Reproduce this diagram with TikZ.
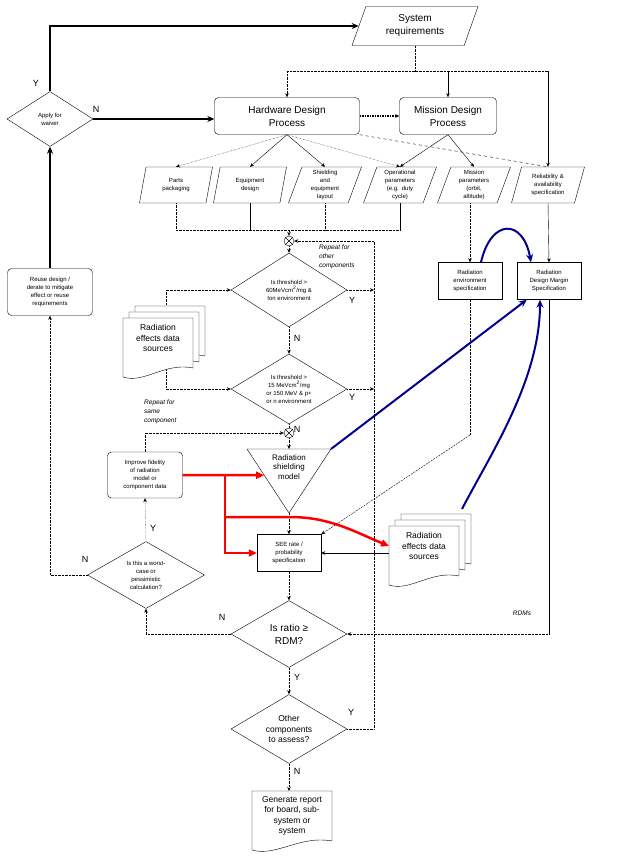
\documentclass[tikz,border=0pt]{standalone}
\usepackage{fontspec}
\setmainfont{Liberation Sans}
\usetikzlibrary{positioning}
\usetikzlibrary{calc}
\usetikzlibrary{shapes.geometric}
\usetikzlibrary{arrows.meta}
\definecolor{rdmblue}{RGB}{0,0,140}
\tikzset{
    % Small arrow tips for the thin flow lines
    >={Stealth[length=4pt,width=3.5pt]},
%
    % Text sizes used across the chart
    tiny text/.style={font=\fontsize{6}{8}\selectfont},
    small text/.style={font=\fontsize{8}{9.5}\selectfont},
    mid text/.style={font=\fontsize{8.5}{10.5}\selectfont},
    big text/.style={font=\fontsize{10}{13}\selectfont},
%
    % Square and rounded process boxes
    plainbox/.style={draw, align=center, inner sep=1pt, tiny text,
        minimum width=64pt, minimum height=37pt},
    proc/.style={plainbox, rounded corners=4pt},
%
    % Slanted input boxes
    slanted/.style={draw, trapezium, trapezium left angle=67,
        trapezium right angle=113, trapezium stretches body,
        minimum width=73pt, minimum height=36pt, inner xsep=0pt,
        inner ysep=1pt, text width=40pt, align=center, tiny text},
%
    % Yes/no questions
    decision/.style={draw, diamond, aspect=1.6, inner sep=0pt, align=center,
        minimum width=116pt, minimum height=70pt, tiny text},
%
    % Summing junction
    joint/.style={draw, circle, fill=white, minimum size=10pt, inner sep=0pt,
        path picture={\draw (path picture bounding box.north west)
            -- (path picture bounding box.south east)
            (path picture bounding box.north east)
            -- (path picture bounding box.south west);}},
%
    % Connectors
    flow/.style={densely dotted, ->},
    plain flow/.style={->},
    heavy flow/.style={line width=2pt, -{Stealth[length=7pt,width=6pt]}},
    red flow/.style={red, line width=2.5pt, -{Triangle[length=8pt,width=7pt]}},
    blue flow/.style={rdmblue, line width=2pt, -{Stealth[length=8pt,width=7pt]}},
%
    % Branch letters and side notes
    yn/.style={font=\fontsize{9}{10}\selectfont, inner sep=0pt},
    note/.style={font=\fontsize{6.5}{9}\selectfont\itshape, align=left,
        inner sep=0pt}}
\pgfdeclarelayer{background}
\pgfsetlayers{background,main}

\begin{document}
\begin{tikzpicture}[x=1pt, y=-1pt]
\useasboundingbox (0,0) rectangle (620,864);

% Draws a document page with top left corner at (#1,#2) and width #3
\newcommand{\docpage}[3]{
\draw [fill=white, shift={(#1,#2)}, xscale=#3/70]
    (0,0) -- (70,0) -- (70,50) .. controls (42,44) and (21,66) .. (0,59)
    -- cycle;
}

% Draws a stack of three data source pages named #1 at (#2,#3)
\newcommand{\datastack}[3]{
\docpage{#2+12}{#3-12}{70}
\docpage{#2+6}{#3-6}{70}
\docpage{#2}{#3}{70}
\node [mid text, align=center] (#1) at (#2+35,#3+20)
    {Radiation\\effects data\\sources};
\coordinate (#1 west) at (#2,#3+20);
\coordinate (#1 hook) at (#2+43,#3+30);
\coordinate (#1 corner) at (#2+73,#3-17);
}

% Requirements and design processes
\node [slanted, big text, minimum width=126pt, minimum height=39pt,
    text width=75pt, trapezium left angle=60, trapezium right angle=120]
    (sysreq) at (415,26) {System\\requirements};
\node [proc, big text, minimum width=145pt, minimum height=37pt]
    (hw) at (287,116) {Hardware Design\\Process};
\node [proc, big text, minimum width=97pt, minimum height=37pt]
    (md) at (448,116) {Mission Design\\Process};
\node [decision, minimum width=86pt, minimum height=55pt]
    (waiver) at (50,119) {Apply for\\waiver};
\node [yn] (waiver y) at (36,83) {Y};
\node [yn] (waiver n) at (96,109) {N};

\node [slanted] (parts) at (176,185) {Parts\\packaging};
\node [slanted] (equip) at (250,185) {Equipment\\design};
\node [slanted] (shield) at (325,185) {Shielding\\and\\equipment\\layout};
\node [slanted] (oper) at (400,185)
    {Operational\\parameters\\(e.g. duty\\cycle)};
\node [slanted] (mparam) at (474,185) {Mission\\parameters\\(orbit,\\altitude)};
\node [slanted] (relia) at (548,185)
    {Reliability \&\\availability\\specification};

\node [plainbox] (envspec) at (470,281)
    {Radiation\\environment\\specification};
\node [plainbox] (rdmspec) at (549,281)
    {Radiation\\Design Margin\\Specification};

% Threshold checks
\node [joint] (loop1) at (289,241) {};
\node [note, anchor=north west] (repeat other) at (319,245)
    {Repeat for\\other\\components};
\node [decision, minimum height=74pt] (thr1) at (289,290)
    {Is threshold >\\60MeVcm\textsuperscript{2}/mg \&\\Ion environment};
\node [decision] (thr2) at (289,389)
    {Is threshold >\\15 MeVcm\textsuperscript{2}/mg\\or 150 MeV \& p+\\or n environment};
\node [yn] (thr1 y) at (352,300) {Y};
\node [yn] (thr1 n) at (297,338) {N};
\node [yn] (thr2 y) at (352,397) {Y};
\node [yn] (thr2 n) at (297,429) {N};
\node [joint] (loop2) at (289,433) {};
\node [note, anchor=north west] (repeat same) at (144,400)
    {Repeat for\\same\\component};

% Shielding model triangle
\coordinate (tri left) at (247,449);
\coordinate (tri right) at (331,449);
\coordinate (tri apex) at (289,513);
\coordinate (tri top) at (289,449);
\coordinate (tri in) at ($(tri left)!0.41!(tri apex)$);
\draw (tri left) -- (tri right) -- (tri apex) -- cycle;
\node [small text, align=center] (shielding) at (289,467)
    {Radiation\\shielding\\model};

\node [plainbox] (see) at (289,553) {SEE rate /\\probability\\specification};
\node [decision, big text, minimum height=67pt] (ratio) at (289,634)
    {Is ratio ≥\\RDM?};
\node [decision, mid text, minimum height=69pt] (other) at (289,729)
    {Other\\components\\to assess?};
\node [yn] (ratio n) at (222,617) {N};
\node [yn] (ratio y) at (297,677) {Y};
\node [yn] (other y) at (351,712) {Y};
\node [yn] (other n) at (297,771) {N};

% Report
\docpage{252}{791}{80}
\node [mid text, align=center] (report) at (292,816)
    {Generate report\\for board, sub-\\system or\\system};
\coordinate (report top) at (289,791);

% Left hand loop
\node [proc, minimum width=75pt, minimum height=46pt] (improve) at (145,475)
    {Improve fidelity\\of radiation\\model or\\component data};
\node [decision, minimum width=117pt, minimum height=67pt] (worst) at (146,575)
    {Is this a worst-\\case or\\pessimistic\\calculation?};
\node [proc, minimum width=85pt, minimum height=47pt] (reuse) at (50,292)
    {Reuse design /\\derate to mitigate\\effect or reuse\\requirements};
\node [yn] (worst y) at (153,528) {Y};
\node [yn] (worst n) at (85,559) {N};

% Data sources
\datastack{srcA}{123}{318}
\datastack{srcB}{389}{526}
\node [note] (rdms) at (522,613) {RDMs};

% Top connectors
\coordinate (req bus) at (0,71);
\draw [densely dotted] (sysreq.south) -- (sysreq.south |- req bus);
\draw [densely dotted] (hw.north |- req bus) -- (relia.north |- req bus);
\draw [flow] (hw.north |- req bus) -- (hw.north);
\draw [plain flow] (md.north |- req bus) -- (md.north);
\draw [plain flow] (relia.north |- req bus) -- (relia.north);
\draw [heavy flow] (waiver.north) |- (sysreq);
\draw [heavy flow] (waiver.east) -- (waiver.east -| hw.west);
\draw [line width=1.5pt, densely dotted, ->] (hw.east) -- (md.west);
\draw [heavy flow] (reuse.north) -- (waiver.south);

\draw [flow] (hw.south) -- (parts.north);
\draw [plain flow] (hw.south) -- (equip.north);
\draw [plain flow] (hw.south) -- (shield.north);
\draw [flow] (hw.south) -- (oper.north);
\draw [plain flow] (md.south) -- (oper.north);
\draw [plain flow] (md.south) -- (mparam.north);
\draw [dashed] (hw.south east) -- (relia.north);

% Inputs merge into the component loop
\coordinate (input bus) at (0,230);
\draw [densely dotted] (parts.south) -- (parts.south |- input bus)
    -- (oper.south |- input bus);
\draw (equip.south) -- (equip.south |- input bus);
\draw [densely dotted] (shield.south) -- (shield.south |- input bus);
\draw (oper.south) -- (oper.south |- input bus);
\draw [flow] (loop1 |- input bus) -- (loop1);
\draw [flow] (envspec.north |- mparam.south) -- (envspec.north);
\draw [plain flow] (relia.south) -- (rdmspec.north);

% Threshold checks and repeat loop
\coordinate (repeat line) at (374,0);
\draw [flow] (loop1) -- (thr1.north);
\draw [flow] (thr1.south) -- (thr2.north);
\draw [flow] (thr1.east) -- (thr1.east -| repeat line);
\draw [flow] (thr2.east) -- (thr2.east -| repeat line);
\draw [flow] (other.east) -| (repeat line |- loop1) -- (loop1);
\begin{pgfonlayer}{background}
\draw [flow] (srcA hook) |- (thr1.west);
\draw [flow] (srcA hook) |- (thr2.west);
\end{pgfonlayer}

% Shielding model to SEE rate
\draw [densely dotted] (thr2.south) -- (loop2);
\draw [flow] (improve.north) |- (loop2);
\draw [flow] (loop2) -- (tri top);
\draw [flow] (tri apex) -- (see.north);
\draw [plain flow] (see.east -| srcB west) -- (see.east);
\coordinate (env bend) at (470,435);
\draw [densely dotted] (envspec.south) -- (envspec.south |- env bend);
\draw [dash pattern=on 2pt off 1pt, ->] (envspec.south |- env bend)
    -- (see.north east);

% Margin check and bottom of the chart
\draw (rdmspec.south) -- (rdmspec.south |- ratio.east);
\draw [flow] (rdmspec.south |- ratio.east) -- (ratio.east);
\draw [flow] (see.south) -- (ratio.north);
\draw [flow] (ratio.west) -| (worst.south);
\draw [flow] (ratio.south) -- (other.north);
\draw [flow] (other.south) -- (report top);
\draw [flow] (worst.north) -- (improve.south);
\draw [flow] (worst.west) -| (reuse.south);

% Fidelity improvements
\coordinate (red fork) at (225,0);
\coordinate (red split) at (225,517);
\draw [red flow] (improve.east) -- (tri in);
\draw [red flow] (improve.east -| red fork) |- (see.west);
\draw [red flow] (red split) -- (290,517)
    .. controls (330,517) and (355,532) .. (srcB west);

% Links into the radiation design margin
\draw [blue flow] ($(envspec.north)+(11,0)$)
    .. controls +(10,-44) and +(-8,-44) .. ($(rdmspec.north)+(-18,0)$);
\draw [blue flow] (tri right) -- ($(rdmspec.south west)+(10,0)$);
\draw [blue flow] (srcB corner)
    .. controls (490,455) and (540,380) .. ($(rdmspec.south)+(-9,0)$);

\end{tikzpicture}
\end{document}
